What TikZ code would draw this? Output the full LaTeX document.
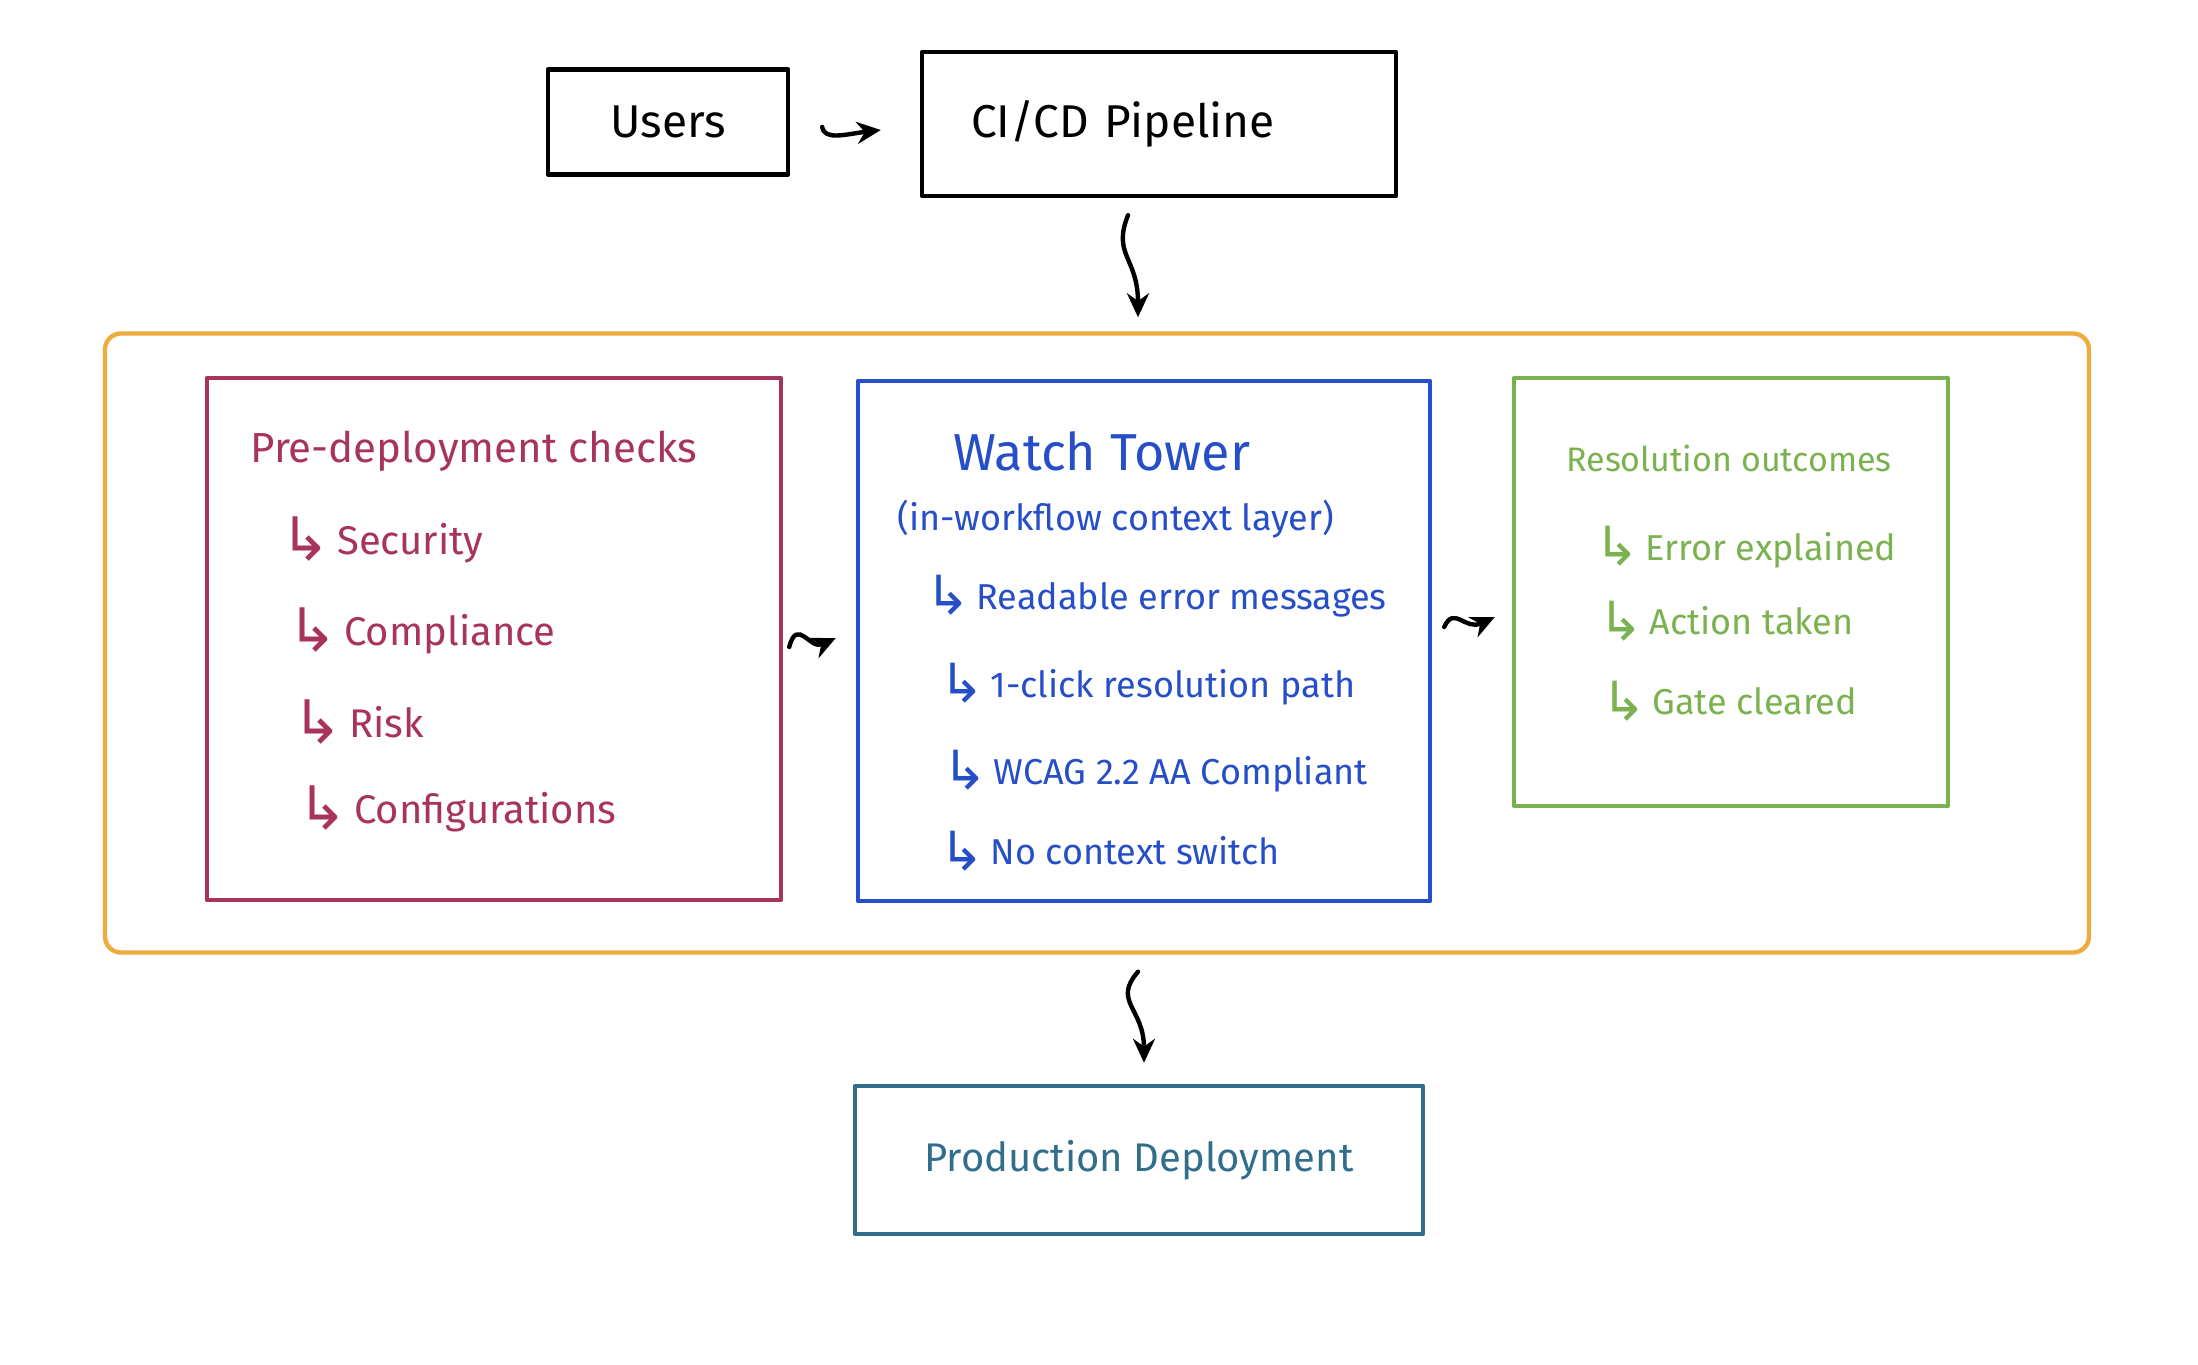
\documentclass[tikz,border=0pt]{standalone}
\usepackage{fontspec}
\setmainfont{Fira Sans}
\newfontfamily\arrowfont{DejaVu Sans}
\usetikzlibrary{arrows.meta,calc}

\definecolor{cred}{RGB}{168,52,90}
\definecolor{cblue}{RGB}{38,78,200}
\definecolor{cgreen}{RGB}{122,178,80}
\definecolor{corange}{RGB}{238,172,62}
\definecolor{cteal}{RGB}{48,110,140}
\newcommand{\myarr}{\raisebox{-0.15em}{\scalebox{1.5}{\arrowfont ↳}}\,}

\begin{document}
\begin{tikzpicture}[x=0.5pt,y=-0.5pt,
  box/.style={draw, line width=2.2pt, inner sep=0pt, line join=round},
  lbl/.style={anchor=west, inner sep=0pt},
  arr/.style={draw=black, line width=2.2pt, line cap=round, -{Stealth[length=12pt,width=11pt]}},
  item/.style={lbl, font=\fontsize{20}{24}\selectfont},
]
\useasboundingbox (0,0) rectangle (2198,1364);
\fill[white] (0,0) rectangle (2198,1364);

% top boxes
\node[box, font=\fontsize{23}{27}\selectfont, minimum width=120pt, minimum height=52.5pt] (users) at (668,122) {Users};
\node[box, font=\fontsize{23}{27}\selectfont, minimum width=237pt, minimum height=72pt, text width=220pt, align=left] (cicd) at (1159,124) {\hspace*{16pt}CI/CD Pipeline};

% container and inner boxes
\node[box, draw=corange, rounded corners=8pt, minimum width=992pt, minimum height=309.5pt] (layer) at (1097,643) {};
\node[box, draw=cred, minimum width=287pt, minimum height=261pt] (pre) at (494,639) {};
\node[box, draw=cblue, minimum width=286pt, minimum height=260pt] (wt) at (1144,641) {};
\node[box, draw=cgreen, minimum width=217pt, minimum height=214pt] (res) at (1731,592) {};

% bottom box
\node[box, font=\fontsize{20}{24}\selectfont, draw=cteal, text=cteal, minimum width=284pt, minimum height=74pt] (prod) at (1139,1160) {Production Deployment};

% red texts
\begin{scope}[text=cred]
\node[lbl, font=\fontsize{21}{25}\selectfont] (pret) at (250,451) {Pre-deployment checks};
\node[item] (p1) at (280,540) {\myarr Security};
\node[item] (p2) at (287,631) {\myarr Compliance};
\node[item] (p3) at (292,722) {\myarr Risk};
\node[item] (p4) at (297,809) {\myarr Configurations};
\end{scope}

% blue texts
\begin{scope}[text=cblue]
\node[lbl, font=\fontsize{26}{30}\selectfont] (wtt) at (953,451) {Watch Tower};
\node[lbl, font=\fontsize{18}{22}\selectfont] (wts) at (897,519) {(in-workflow context layer)};
\node[item, font=\fontsize{18}{22}\selectfont] (w1) at (925,596) {\myarr Readable error messages};
\node[item, font=\fontsize{18}{22}\selectfont] (w2) at (939,684) {\myarr 1-click resolution path};
\node[item, font=\fontsize{18}{22}\selectfont] (w3) at (942,771) {\myarr WCAG 2.2 AA Compliant};
\node[item, font=\fontsize{18}{22}\selectfont] (w4) at (939,851) {\myarr No context switch};
\end{scope}

% green texts
\begin{scope}[text=cgreen]
\node[lbl, font=\fontsize{17}{21}\selectfont] (rt) at (1566,458) {Resolution outcomes};
\node[item, font=\fontsize{18}{22}\selectfont] (r1) at (1594,547) {\myarr Error explained};
\node[item, font=\fontsize{18}{22}\selectfont] (r2) at (1598,621) {\myarr Action taken};
\node[item, font=\fontsize{18}{22}\selectfont] (r3) at (1601,701) {\myarr Gate cleared};
\end{scope}

% connector end points
\coordinate (a1s) at ($(users.east)+(32,5)$);
\coordinate (a1e) at ($(cicd.west)+(-39,6)$);
\coordinate (a2s) at ($(cicd.south)+(-31,17)$);
\coordinate (a2e) at ($(layer.north)+(41,-14)$);
\coordinate (a3s) at ($(pre.east)+(6,8)$);
\coordinate (a3e) at ($(wt.west)+(-20,-3)$);
\coordinate (a4s) at ($(wt.east)+(12,-14)$);
\coordinate (a4e) at ($(res.west)+(-17,25)$);
\coordinate (a5s) at ($(layer.south)+(41,17)$);
\coordinate (a5e) at ($(prod.north)+(5,-21)$);

% connectors
\draw[arr] (a1s) .. controls ($(a1s)+(2,14)$) and ($(a1e)+(-34,4)$) .. (a1e);
\draw[arr] (a2s) .. controls ($(a2s)+(-16,40)$) and ($(a2e)+(0,-60)$) .. (a2e);
\draw[arr] (a3s) .. controls ($(a3s)+(8,-30)$) and ($(a3e)+(-26,12)$) .. (a3e);
\draw[arr] (a4s) .. controls ($(a4s)+(10,-22)$) and ($(a4e)+(-30,14)$) .. (a4e);
\draw[arr] (a5s) .. controls ($(a5s)+(-26,30)$) and ($(a5e)+(0,-55)$) .. (a5e);
\end{tikzpicture}
\end{document}
